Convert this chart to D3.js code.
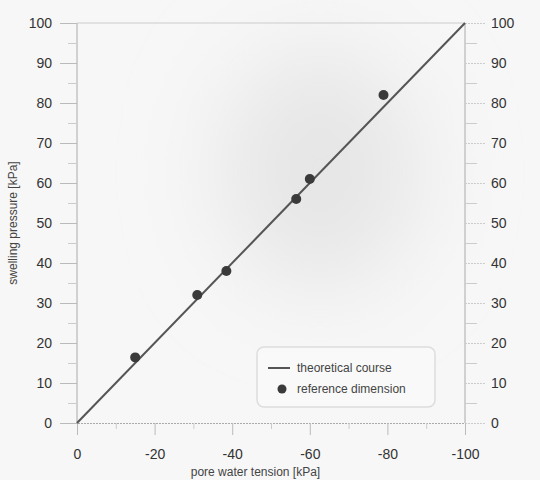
<!DOCTYPE html>
<html>
<head>
<meta charset="utf-8">
<script src="https://cdn.jsdelivr.net/npm/d3@7"></script>
<style>
  body { margin: 0; background: #f7f7f7; }
  svg { display: block; font-family: "Liberation Sans", Arial, sans-serif; }
</style>
</head>
<body>
<svg id="chart" width="540" height="480"></svg>
<script>
(function () {
  'use strict';

  // data
  const tensionTicks = [0, -20, -40, -60, -80, -100];
  const pressureTicks = [0, 10, 20, 30, 40, 50, 60, 70, 80, 90, 100];
  const theoryTension = [0, -100];
  const theoryPressure = [0, 100];
  const refTension = [-15, -31, -38.5, -56.5, -60, -79];
  const refPressure = [16.4, 32, 38, 56, 61, 82];
  const legendLabels = ['theoretical course', 'reference dimension'];

  const svg = d3.select('#chart');
  const margin = {top: 23, right: 75, bottom: 57, left: 77};
  const width = 540 - margin.left - margin.right;
  const height = 480 - margin.top - margin.bottom;
  const plain = d => String(d); // hyphen minus like the scan

  // faint scan blotch in the background
  const defs = svg.append('defs');
  defs.append('filter').attr('id', 'blur')
    .attr('x', '-100%').attr('y', '-100%').attr('width', '300%').attr('height', '300%')
    .append('feGaussianBlur').attr('stdDeviation', 45);
  svg.append('ellipse')
    .attr('cx', 320).attr('cy', 170).attr('rx', 100).attr('ry', 120)
    .attr('fill', '#e6e6e6').attr('filter', 'url(#blur)');

  const g = svg.append('g').attr('transform', `translate(${margin.left},${margin.top})`);

  const x = d3.scaleLinear().domain([0, -100]).range([0, width]);
  const y = d3.scaleLinear().domain([0, 100]).range([height, 0]);

  const minorY = d3.range(5, 100, 10);
  const minorX = d3.range(-10, -100, -10).filter(v => v % 20 !== 0);

  // left axis
  const left = g.append('g')
    .call(d3.axisLeft(y).tickValues(pressureTicks).tickFormat(plain).tickSize(17).tickPadding(8));
  left.selectAll('.tick line').attr('stroke', '#bbb');
  g.append('g')
    .call(d3.axisLeft(y).tickValues(minorY).tickSize(9).tickFormat(''))
    .call(a => a.select('.domain').remove())
    .selectAll('.tick line').attr('stroke', '#ccc');

  // right axis
  const right = g.append('g').attr('transform', `translate(${width},0)`)
    .call(d3.axisRight(y).tickValues(pressureTicks).tickFormat(plain).tickSize(20).tickPadding(6));
  right.selectAll('.tick line').attr('stroke', '#ccc').attr('stroke-dasharray', '2,1');
  g.append('g').attr('transform', `translate(${width},0)`)
    .call(d3.axisRight(y).tickValues(minorY).tickSize(12).tickFormat(''))
    .call(a => a.select('.domain').remove())
    .selectAll('.tick line').attr('stroke', '#ccc');

  // bottom axis
  const bottom = g.append('g').attr('transform', `translate(0,${height})`)
    .call(d3.axisBottom(x).tickValues(tensionTicks).tickFormat(plain).tickSize(12).tickPadding(14));
  bottom.selectAll('.tick line').attr('stroke', '#bbb');
  bottom.select('.domain').attr('stroke-dasharray', '2,1');
  g.append('g').attr('transform', `translate(0,${height})`)
    .call(d3.axisBottom(x).tickValues(minorX).tickSize(6).tickFormat(''))
    .call(a => a.select('.domain').remove())
    .selectAll('.tick line').attr('stroke', '#ccc');

  [left, right, bottom].forEach(a => {
    a.select('.domain').attr('stroke', '#aaa');
    a.selectAll('.tick text').attr('font-size', 14).attr('fill', '#333');
  });
  left.select('.domain').attr('d', `M0,${height}V0`);
  right.select('.domain').attr('d', `M0,${height}V0`);

  // top border
  g.append('line')
    .attr('x1', x(0)).attr('x2', x(-100)).attr('y1', y(100)).attr('y2', y(100))
    .attr('stroke', '#ccc');

  // theoretical course
  const line = d3.line().x(d => x(d[0])).y(d => y(d[1]));
  g.append('path')
    .datum(d3.zip(theoryTension, theoryPressure))
    .attr('d', line)
    .attr('fill', 'none').attr('stroke', '#555').attr('stroke-width', 2);

  // reference dimension
  g.selectAll('circle.ref')
    .data(d3.zip(refTension, refPressure))
    .join('circle').attr('class', 'ref')
    .attr('cx', d => x(d[0])).attr('cy', d => y(d[1])).attr('r', 5)
    .attr('fill', '#3a3a3a');

  // axis titles
  svg.append('text')
    .attr('x', margin.left + x(-46)).attr('y', 476)
    .attr('text-anchor', 'middle').attr('font-size', 12).attr('fill', '#444')
    .text('pore water tension [kPa]');
  svg.append('text')
    .attr('transform', `translate(17,${margin.top + y(50)}) rotate(-90)`)
    .attr('text-anchor', 'middle').attr('font-size', 12).attr('fill', '#444')
    .text('swelling pressure [kPa]');

  // legend
  const lg = svg.append('g').attr('transform', 'translate(257,347)');
  lg.append('rect')
    .attr('width', 178).attr('height', 60).attr('rx', 7)
    .attr('fill', '#f9f9f9').attr('stroke', '#ddd').attr('stroke-width', 1.5);
  lg.append('line')
    .attr('x1', 11).attr('x2', 33).attr('y1', 21).attr('y2', 21)
    .attr('stroke', '#555').attr('stroke-width', 2);
  lg.append('circle').attr('cx', 25).attr('cy', 42).attr('r', 4.5).attr('fill', '#3a3a3a');
  lg.selectAll('text.lab')
    .data(legendLabels)
    .join('text').attr('class', 'lab')
    .attr('x', 40).attr('y', (d, i) => 21 + i * 21).attr('dy', '0.35em')
    .attr('font-size', 12).attr('fill', '#444')
    .text(d => d);
}());
</script>
</body>
</html>
